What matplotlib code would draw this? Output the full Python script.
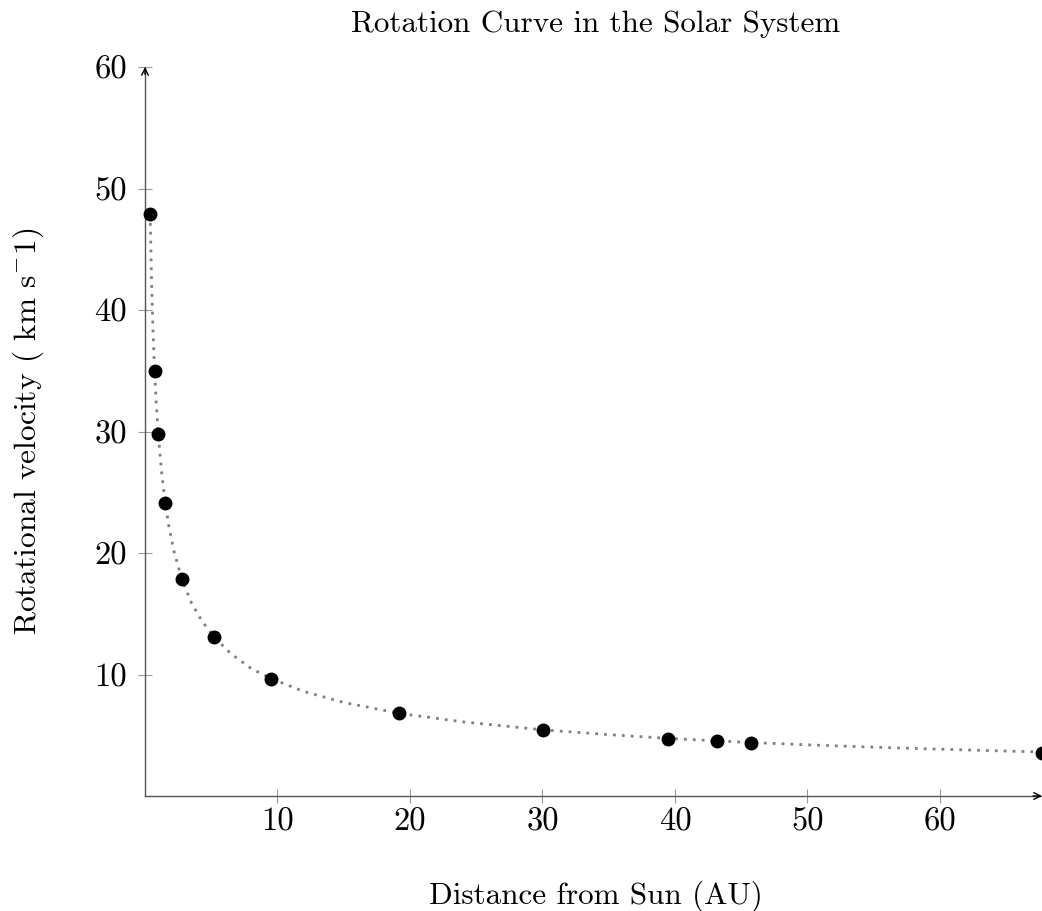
import matplotlib
matplotlib.use("Agg")
import matplotlib.pyplot as plt

# Data
dist_au = [0.39, 0.72, 1.0, 1.52, 2.77, 5.2, 9.54, 19.2, 30.06, 39.5, 43.2, 45.7, 67.7]
vel_kms = [47.9, 35.0, 29.8, 24.1, 17.9, 13.1, 9.65, 6.8, 5.43, 4.71, 4.49, 4.38, 3.58]

curve_x = [0.39, 0.5, 0.6, 0.72, 0.85, 1.0, 1.25, 1.52, 1.8, 2.2, 2.77, 3.5, 4.3, 5.2,
           6.5, 8.0, 9.5, 12, 15, 19.2, 24, 30, 35, 39.5, 45, 50, 55, 60, 67.7]
curve_y = [47.9, 42.1, 38.5, 35.0, 32.3, 29.8, 26.7, 24.2, 22.2, 20.1, 17.9, 15.9, 14.4, 13.1,
           11.7, 10.5, 9.67, 8.6, 7.7, 6.8, 6.1, 5.45, 5.05, 4.74, 4.44, 4.21, 4.02, 3.85, 3.62]

xticks = [10, 20, 30, 40, 50, 60]
yticks = [10, 20, 30, 40, 50, 60]

plt.rcParams['font.family'] = ['cmr10', 'DejaVu Serif']
plt.rcParams['mathtext.fontset'] = 'cm'
plt.rcParams['axes.formatter.use_mathtext'] = True

W, H = 1042, 911
fig = plt.figure(figsize=(W / 100, H / 100), dpi=100)
ax = fig.add_axes([145 / W, 1 - 796 / H, (1042 - 145) / W, (796 - 67) / H])

ax.plot(curve_x, curve_y, color='#808080', lw=2.0, dashes=(1, 2.2),
        dash_capstyle='butt', zorder=2)
ax.plot(dist_au, vel_kms, 'o', color='black', ms=9, zorder=3, clip_on=False)

ax.set_xlim(0, 67.7)
ax.set_ylim(0, 60)
ax.set_xticks(xticks)
ax.set_yticks(yticks)
ax.set_xticklabels([str(t) for t in xticks])
ax.set_yticklabels([str(t) for t in yticks])

for s in ['top', 'right']:
    ax.spines[s].set_visible(False)
for s in ['left', 'bottom']:
    ax.spines[s].set_color('#555555')
    ax.spines[s].set_linewidth(1.0)

ax.tick_params(direction='inout', length=10, width=0.8, color='#999999',
               labelsize=23.5)
ax.tick_params(axis='x', pad=3)
ax.tick_params(axis='y', pad=8)

# arrows at ends of axes
ax.annotate('', xy=(1.0, 0), xytext=(0.99, 0), xycoords='axes fraction',
            arrowprops=dict(arrowstyle='->', lw=1.0, color='black',
                            shrinkA=0, shrinkB=0, mutation_scale=12))
ax.annotate('', xy=(0, 1.0), xytext=(0, 0.99), xycoords='axes fraction',
            arrowprops=dict(arrowstyle='->', lw=1.0, color='black',
                            shrinkA=0, shrinkB=0, mutation_scale=12))

fig.text(596 / W, 1 - 32 / H, 'Rotation Curve in the Solar System',
         ha='center', va='baseline', fontsize=22.4)
fig.text(596 / W, 1 - 904 / H, 'Distance from Sun (AU)',
         ha='center', va='baseline', fontsize=22.4)
fig.text(28 / W, 1 - 431 / H, r'Rotational velocity ( km s$^{-}$1)',
         ha='center', va='center', fontsize=22.6, rotation=90)

fig.savefig('out.png', dpi=100)
